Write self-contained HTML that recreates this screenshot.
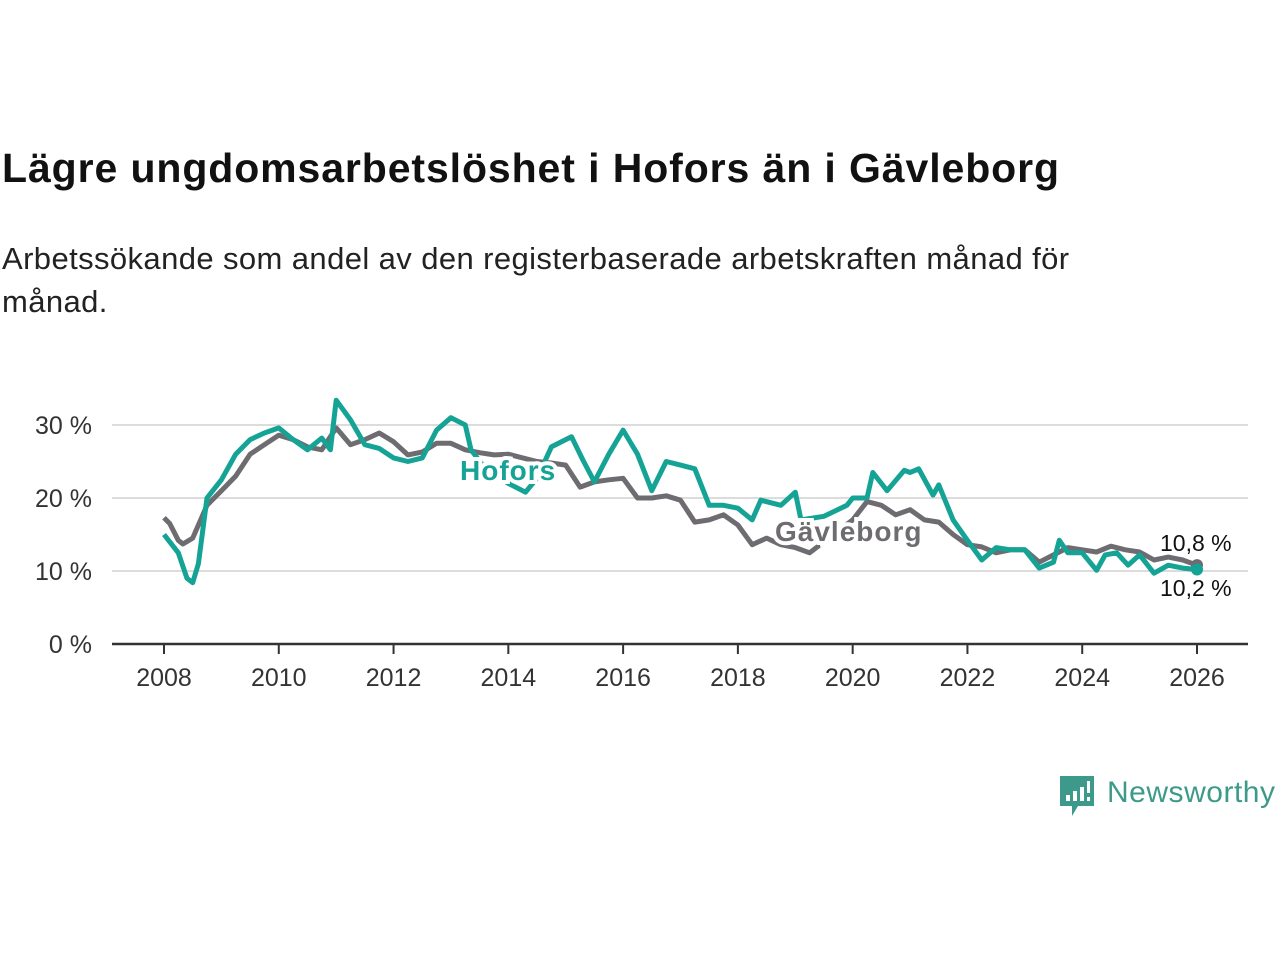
<!DOCTYPE html>
<html><head><meta charset="utf-8"><style>
body{margin:0;background:#fff;width:1280px;height:960px;overflow:hidden;font-family:"Liberation Sans","DejaVu Sans",sans-serif;}
#title{position:absolute;left:2px;top:145px;font-size:41px;font-weight:bold;color:#111;white-space:nowrap;letter-spacing:0.9px;}
#sub{position:absolute;left:2px;top:237px;font-size:31px;line-height:43px;color:#222;width:1170px;letter-spacing:0.4px;}
svg{position:absolute;left:0;top:0;}
</style></head><body>
<div id="title">Lägre ungdomsarbetslöshet i Hofors än i Gävleborg</div>
<div id="sub">Arbetssökande som andel av den registerbaserade arbetskraften månad för månad.</div>
<svg id="chart" width="1280" height="960"></svg>
<script>
const yTicks=[0,10,20,30];
const xTicks=[2008,2010,2012,2014,2016,2018,2020,2022,2024,2026];
const gDates=[2008,2008.1,2008.25,2008.33,2008.5,2008.75,2009,2009.25,2009.5,2009.75,2010,2010.25,2010.5,2010.75,2011,2011.25,2011.5,2011.75,2012,2012.25,2012.5,2012.75,2013,2013.25,2013.5,2013.75,2014,2014.25,2014.5,2014.75,2015,2015.25,2015.5,2015.75,2016,2016.25,2016.5,2016.75,2017,2017.25,2017.5,2017.75,2018,2018.25,2018.5,2018.75,2019,2019.25,2019.5,2019.75,2020,2020.25,2020.5,2020.75,2021,2021.25,2021.5,2021.75,2022,2022.25,2022.5,2022.75,2023,2023.25,2023.5,2023.75,2024,2024.25,2024.5,2024.75,2025,2025.25,2025.5,2025.75,2026];
const gVals=[17.3,16.5,14.2,13.7,14.5,19,21,23,26,27.3,28.6,28,27,26.6,29.6,27.3,28,28.9,27.7,25.9,26.3,27.5,27.5,26.6,26.2,25.9,26,25.5,25,24.8,24.5,21.5,22.2,22.5,22.7,20,20,20.3,19.7,16.7,17,17.7,16.3,13.6,14.5,13.6,13.2,12.5,14,15.5,17,19.5,19,17.7,18.4,17,16.7,15,13.6,13.3,12.5,12.9,12.9,11.2,12.2,13.2,12.9,12.6,13.4,12.9,12.6,11.5,11.9,11.5,10.8];
const hDates=[2008,2008.25,2008.4,2008.5,2008.6,2008.75,2009,2009.25,2009.5,2009.75,2010,2010.25,2010.5,2010.75,2010.9,2011,2011.25,2011.5,2011.75,2012,2012.25,2012.5,2012.75,2013,2013.25,2013.35,2013.6,2014,2014.3,2014.5,2014.75,2015,2015.1,2015.3,2015.5,2015.75,2016,2016.25,2016.5,2016.75,2017,2017.25,2017.5,2017.75,2018,2018.25,2018.4,2018.75,2019,2019.1,2019.5,2019.9,2020,2020.25,2020.35,2020.6,2020.9,2021,2021.15,2021.4,2021.5,2021.75,2022,2022.25,2022.5,2022.75,2023,2023.25,2023.5,2023.6,2023.75,2024,2024.25,2024.4,2024.6,2024.8,2025,2025.25,2025.5,2025.75,2026];
const hVals=[15,12.5,9,8.4,11,20,22.5,26,28,28.9,29.6,28,26.6,28.2,26.6,33.4,30.7,27.3,26.8,25.5,25,25.5,29.3,31,30,26.6,24,22,20.8,22.7,27,28,28.4,25.2,22.2,26,29.3,26,21,25,24.5,24,19,19,18.6,17,19.7,19,20.8,17,17.5,19,20,20,23.5,21,23.8,23.5,24,20.4,21.8,17,14.2,11.5,13.2,12.9,12.9,10.4,11.2,14.2,12.5,12.5,10.1,12.2,12.5,10.8,12.2,9.7,10.8,10.4,10.2];
const NS='http://www.w3.org/2000/svg';
const svg=document.getElementById('chart');
const X=d=>164+(d-2008)*(1197-164)/18;
const Y=v=>644-v*7.3;
function mk(t,a){const e=document.createElementNS(NS,t);for(const k in a)e.setAttribute(k,a[k]);svg.appendChild(e);return e;}
yTicks.forEach(v=>{
  if(v>0){const l=mk('line',{x1:112,x2:1248,y1:Y(v),y2:Y(v),stroke:'#dcdcdc','stroke-width':2});
  
  }
  const t=mk('text',{x:92,y:Y(v)+9,'text-anchor':'end','font-size':25,fill:'#333'});t.textContent=v+' %';
  
  
});
const ax=mk('line',{x1:112,x2:1248,y1:644,y2:644,stroke:'#333','stroke-width':2.5});


xTicks.forEach(d=>{
  mk('line',{x1:X(d),x2:X(d),y1:644,y2:654,stroke:'#333','stroke-width':2});
  const t=mk('text',{x:X(d),y:686,'text-anchor':'middle','font-size':25,fill:'#333'});t.textContent=d;
  
  
});
function line(ds,vs,c,n){
  const p=mk('path',{d:ds.map((d,i)=>(i?'L':'M')+X(d).toFixed(1)+','+Y(vs[i]).toFixed(1)).join(''),fill:'none',stroke:c,'stroke-width':5,'stroke-linejoin':'round'});
  
  
  const e=mk('circle',{cx:X(ds[ds.length-1]),cy:Y(vs[vs.length-1]),r:6,fill:c});
  
  
}
line(gDates,gVals,'#6e6c70','line-gavleborg');
line(hDates,hVals,'#15a395','line-hofors');
function lab(x,y,s,c,n,sz,b){const t=mk('text',{x:x,y:y,'font-size':sz,fill:c,'font-weight':b?'bold':'normal',stroke:'#fff','stroke-width':b?8:0,'paint-order':'stroke','letter-spacing':b?1:0});t.textContent=s;
  
  }
lab(460,480,'Hofors','#15a395','label-hofors',28,true);
lab(775,541,'Gävleborg','#6e6c70','label-gavleborg',28,true);
lab(1160,551,'10,8 %','#111','value-gavleborg',23,false);
lab(1160,596,'10,2 %','#111','value-hofors',23,false);
const g=mk('g',{});


g.innerHTML='<path d="M1060,776 h34 v30 h-16 l-6,10 v-10 h-12 z" fill="#3d9a8b"/><rect x="1066" y="795" width="4" height="6" fill="#fff"/><rect x="1073" y="791" width="4" height="10" fill="#fff"/><rect x="1080" y="787" width="4" height="14" fill="#fff"/><rect x="1087" y="781" width="3" height="12" fill="#fff"/><rect x="1087" y="797" width="3" height="4" fill="#fff"/><text x="1107" y="802" font-size="30" fill="#3d9a8b" textLength="168" font-family="Liberation Sans, sans-serif">Newsworthy</text>';
</script>
</body></html>
